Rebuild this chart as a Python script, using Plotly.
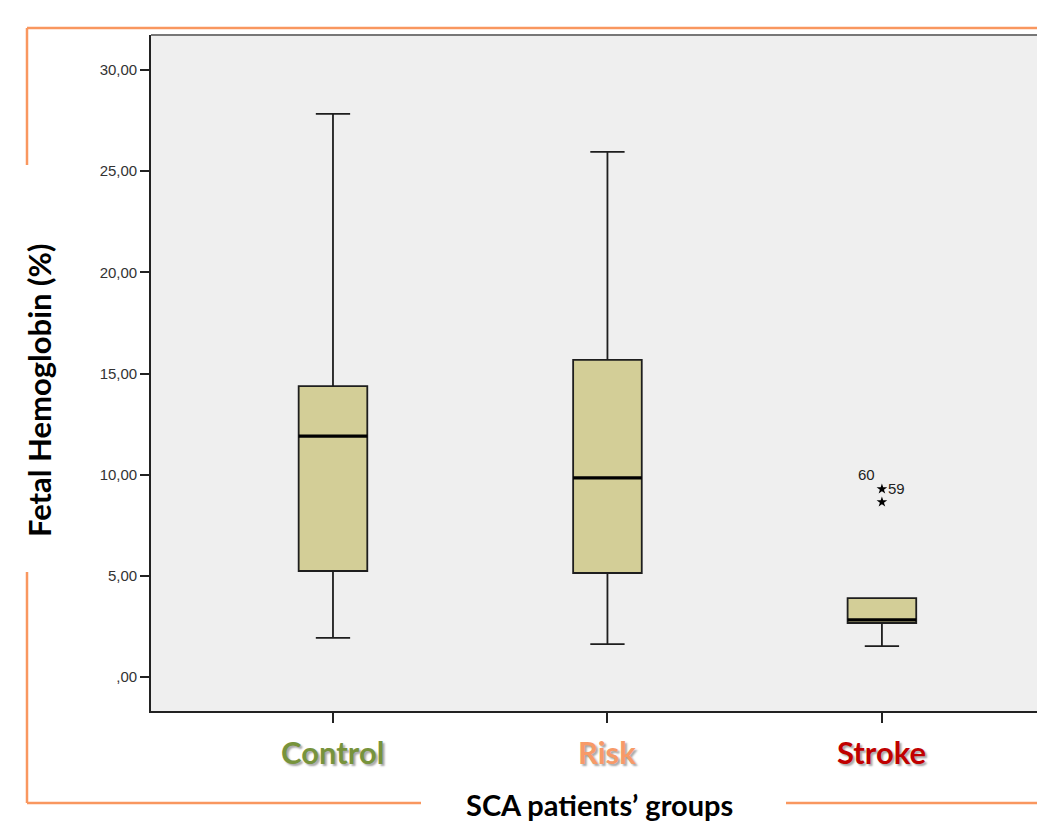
import plotly.graph_objects as go

# ---- data ----
groups = ["Control", "Risk", "Stroke"]
group_colors = ["#77933C", "#F79A68", "#C00000"]
lower_fence = [1.93, 1.63, 1.53]
q1_vals = [5.24, 5.14, 2.67]
medians = [11.91, 9.84, 2.82]
q3_vals = [14.38, 15.67, 3.90]
upper_fence = [27.83, 25.95, 3.90]
outlier_group = [2, 2]
outlier_values = [9.29, 8.65]
outlier_labels = ["59", "60"]
y_ticks = [0, 5, 10, 15, 20, 25, 30]
y_tick_text = [",00", "5,00", "10,00", "15,00", "20,00", "25,00", "30,00"]

xpos = list(range(len(groups)))
box_w = 0.25

fig = go.Figure()
fig.add_trace(go.Box(
    x=xpos, q1=q1_vals, median=medians, q3=q3_vals,
    lowerfence=lower_fence, upperfence=upper_fence,
    width=box_w, whiskerwidth=0.5, boxpoints=False,
    fillcolor="#D3CE97", line=dict(color="#1e1e1e", width=1.8),
    showlegend=False, hoverinfo="skip"))

# thick median lines
for i, m in zip(xpos, medians):
    fig.add_trace(go.Scatter(x=[i - box_w / 2, i + box_w / 2], y=[m, m], mode="lines",
                             line=dict(color="black", width=3.2), showlegend=False,
                             hoverinfo="skip"))

# outliers
fig.add_trace(go.Scatter(x=outlier_group, y=outlier_values, mode="markers",
                         marker=dict(symbol="star", size=8, color="black"),
                         showlegend=False, hoverinfo="skip"))
lab_font = dict(family="Liberation Sans, Arial", size=15, color="#222")
fig.add_annotation(x=outlier_group[0], y=outlier_values[0], text=outlier_labels[0],
                   showarrow=False, xanchor="left", yanchor="middle", xshift=4, yshift=1,
                   font=lab_font)
fig.add_annotation(x=outlier_group[1], y=outlier_values[1], text=outlier_labels[1],
                   showarrow=False, xanchor="right", yanchor="middle", xshift=-5, yshift=27,
                   font=lab_font)

# category labels
for i, (g, c) in enumerate(zip(groups, group_colors)):
    fig.add_annotation(x=i, y=-0.0607, xref="x", yref="paper", text=f"<b>{g}</b>",
                       showarrow=False, xanchor="center", yanchor="middle",
                       font=dict(family="Lato, Open Sans, sans-serif", size=31, color=c,
                                 shadow="2px 2px 2px rgba(0,0,0,0.35)"))

def px2x(p):
    return (p - 151) / 886
def py2y(p):
    return (711 - p) / 676

# axis titles
fig.add_annotation(x=px2x(599), y=py2y(823), xref="paper", yref="paper",
                   text="<b>SCA patients’ groups</b>", showarrow=False,
                   xanchor="center", yanchor="bottom", borderpad=0,
                   font=dict(family="Lato, Open Sans, sans-serif", size=29, color="black"))
fig.add_annotation(x=px2x(39), y=py2y(391), xref="paper", yref="paper",
                   text="<b>Fetal Hemoglobin (%)</b>", textangle=-90, showarrow=False,
                   xanchor="center", yanchor="middle",
                   font=dict(family="Lato, Open Sans, sans-serif", size=31, color="black"))

# decorative frame lines (paper coords)
orange = "#F9975F"
frame = [
    (27, 28, 1040, 28),
    (27, 28, 27, 165),
    (27, 572, 27, 803),
    (27, 803, 421, 803),
    (786, 803, 1040, 803),
]
for x0, y0, x1, y1 in frame:
    fig.add_shape(type="line", xref="paper", yref="paper",
                  x0=px2x(x0), y0=py2y(y0), x1=px2x(x1), y1=py2y(y1),
                  line=dict(color=orange, width=2.5))
# top plot border
fig.add_shape(type="line", xref="paper", yref="paper", x0=0, x1=1.01, y0=1, y1=1,
              line=dict(color="#777", width=2.2))

fig.update_layout(
    width=1037, height=824,
    margin=dict(l=151, r=0, t=35, b=113),
    paper_bgcolor="white", plot_bgcolor="#EFEFEF",
    showlegend=False,
    xaxis=dict(range=[-0.663, 2.565], tickvals=xpos, ticktext=["", "", ""],
               ticks="outside", ticklen=10, tickwidth=1.5, tickcolor="#222",
               showline=True, linecolor="#222", linewidth=1.6, showgrid=False,
               zeroline=False, fixedrange=True),
    yaxis=dict(range=[-1.68, 31.73], tickvals=y_ticks, ticktext=y_tick_text,
               ticks="outside", ticklen=9, tickwidth=1.5, tickcolor="#222",
               tickfont=dict(family="Liberation Sans, Arial", size=15, color="#333"),
               showline=True, linecolor="#222", linewidth=1.6, showgrid=False,
               zeroline=False, fixedrange=True),
)

fig.write_html("out.html")
